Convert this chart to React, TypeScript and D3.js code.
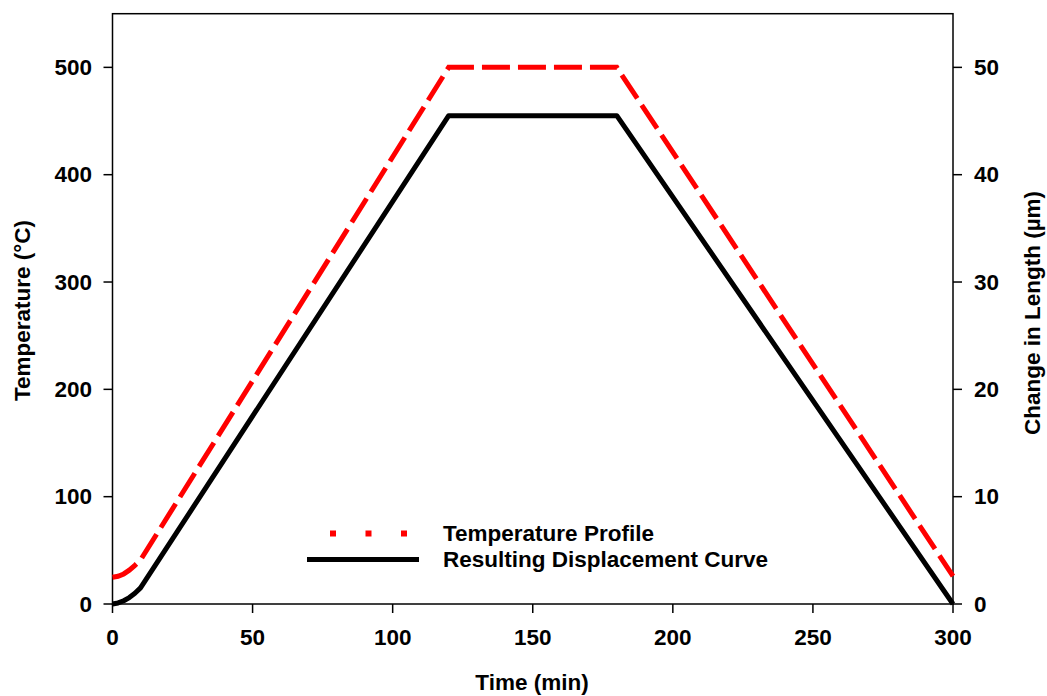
import React from "react";
import * as d3 from "d3";

const tempTime = [0, 2, 4, 6, 8, 10, 120, 180, 300];
const tempValues = [25, 25.8, 28, 31.5, 36, 41, 500, 500, 26];
const dispTime = [0, 2, 4, 6, 8, 10, 120, 180, 300];
const dispValues = [0, 0.1, 0.3, 0.6, 1.0, 1.5, 45.5, 45.5, 0];
const xTicks = [0, 50, 100, 150, 200, 250, 300];
const yLeftTicks = [0, 100, 200, 300, 400, 500];
const yRightTicks = [0, 10, 20, 30, 40, 50];
const legendLabels = ["Temperature Profile", "Resulting Displacement Curve"];

const W = 1047;
const H = 696;
const left = 112.5;
const right = 953;
const top = 13.7;
const bottom = 604;
const FONT = "'Liberation Sans', Arial, sans-serif";
const FS = 22.5;

export default function App() {
  const x = d3.scaleLinear().domain([0, 300]).range([left, right]);
  const yL = d3.scaleLinear().domain([0, 550]).range([bottom, top]);
  const yR = d3.scaleLinear().domain([0, 55]).range([bottom, top]);

  const tempLine = d3
    .line<number>()
    .x((_, i) => x(tempTime[i]))
    .y((d) => yL(d))
    .curve(d3.curveLinear);
  const dispLine = d3
    .line<number>()
    .x((_, i) => x(dispTime[i]))
    .y((d) => yR(d))
    .curve(d3.curveLinear);

  const textStyle = { fontFamily: FONT, fontWeight: 700, fontSize: FS } as const;

  return (
    <svg
      width={W}
      height={H}
      style={{ position: "absolute", left: 0, top: 0, background: "#fff" }}
    >
      <rect
        x={left}
        y={top}
        width={right - left}
        height={bottom - top}
        fill="none"
        stroke="#000"
        strokeWidth={1.5}
      />
      {yLeftTicks.map((t) => (
        <g key={"l" + t}>
          <line x1={left - 9} x2={left} y1={yL(t)} y2={yL(t)} stroke="#000" strokeWidth={1.5} />
          <text
            x={92}
            y={yL(t)}
            textAnchor="end"
            dominantBaseline="central"
            style={textStyle}
          >
            {t}
          </text>
        </g>
      ))}
      {yRightTicks.map((t) => (
        <g key={"r" + t}>
          <line x1={right} x2={right + 9} y1={yR(t)} y2={yR(t)} stroke="#000" strokeWidth={1.5} />
          <text
            x={974}
            y={yR(t)}
            textAnchor="start"
            dominantBaseline="central"
            style={textStyle}
          >
            {t}
          </text>
        </g>
      ))}
      {xTicks.map((t) => (
        <g key={"b" + t}>
          <line x1={x(t)} x2={x(t)} y1={bottom} y2={bottom + 9} stroke="#000" strokeWidth={1.5} />
          <text x={x(t)} y={645} textAnchor="middle" style={textStyle}>
            {t}
          </text>
        </g>
      ))}
      <text x={532} y={690} textAnchor="middle" style={textStyle}>
        Time (min)
      </text>
      <text
        transform={`translate(30, ${(218 + 403) / 2}) rotate(-90)`}
        textAnchor="middle"
        style={textStyle}
      >
        Temperature (°C)
      </text>
      <text
        transform={`translate(1040, 313) rotate(-90)`}
        textAnchor="middle"
        style={textStyle}
      >
        Change in Length (µm)
      </text>

      <path
        d={dispLine(dispValues) || ""}
        fill="none"
        stroke="#000"
        strokeWidth={5}
        strokeLinejoin="round"
      />
      <path
        d={tempLine(tempValues) || ""}
        fill="none"
        stroke="#ff0000"
        strokeWidth={5}
        strokeDasharray="28 8"
      />

      <line x1={330} x2={408} y1={533.5} y2={533.5} stroke="#ff0000" strokeWidth={6} strokeDasharray="6 29.5" />
      <line x1={307} x2={419} y1={559.5} y2={559.5} stroke="#000" strokeWidth={5} />
      <text x={443} y={541} style={textStyle}>
        {legendLabels[0]}
      </text>
      <text x={443} y={567} style={textStyle}>
        {legendLabels[1]}
      </text>
    </svg>
  );
}
